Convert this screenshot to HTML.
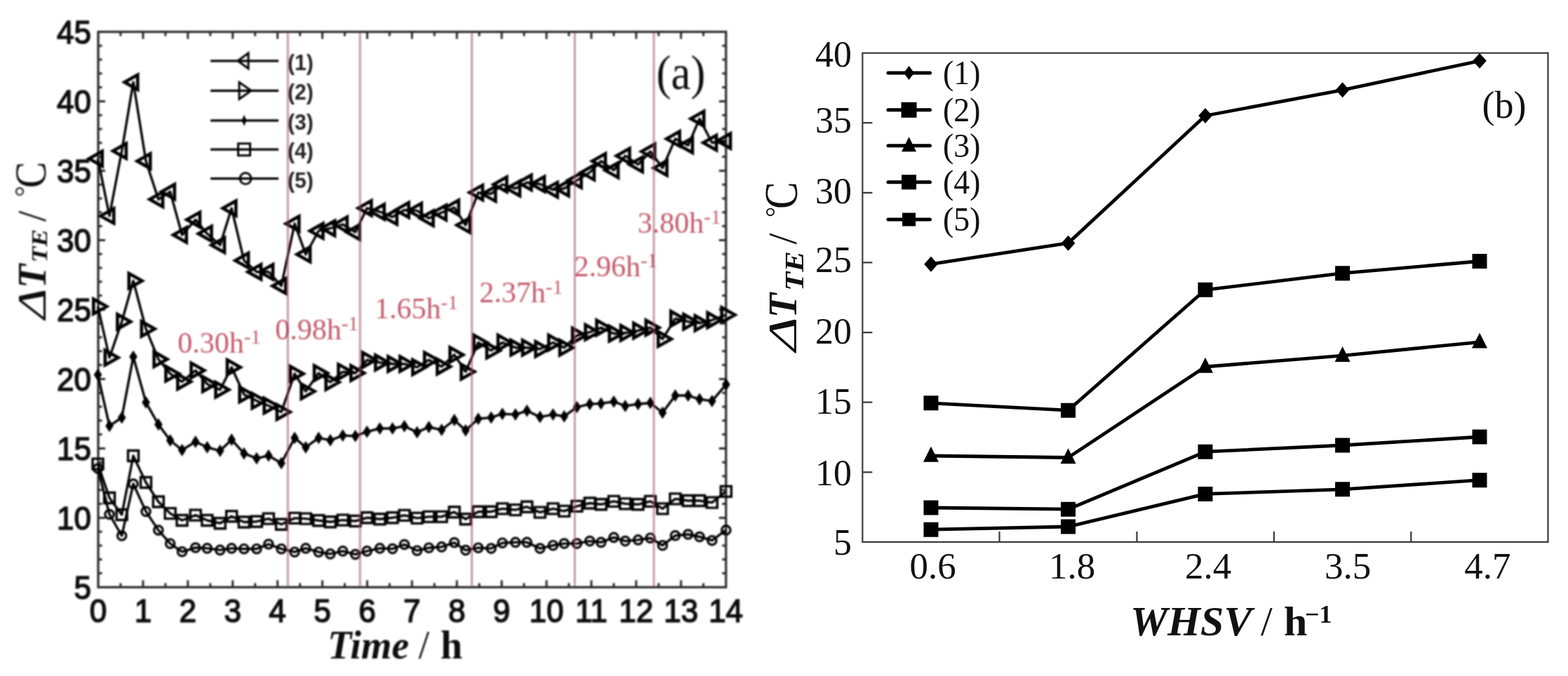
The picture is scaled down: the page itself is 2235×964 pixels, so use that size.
<!DOCTYPE html><html><head><meta charset="utf-8"><title>Chart</title><style>html,body{margin:0;padding:0;background:#fff;overflow:hidden;}svg{display:block;}</style></head><body>
<svg width="2235" height="964" viewBox="0 0 2235 964">
<rect width="2235" height="964" fill="#fff"/>
<defs><filter id="bl" filterUnits="userSpaceOnUse" x="0" y="0" width="1080" height="964"><feGaussianBlur stdDeviation="1"/></filter></defs>
<g filter="url(#bl)">
<rect x="140" y="45.4" width="894.8" height="792" fill="none" stroke="#2a2a2a" stroke-width="3.2"/>
<path d="M171.9 837.4v-6M171.9 45.4v6M203.9 837.4v-10M203.9 45.4v10M235.8 837.4v-6M235.8 45.4v6M267.8 837.4v-10M267.8 45.4v10M299.8 837.4v-6M299.8 45.4v6M331.7 837.4v-10M331.7 45.4v10M363.6 837.4v-6M363.6 45.4v6M395.6 837.4v-10M395.6 45.4v10M427.6 837.4v-6M427.6 45.4v6M459.5 837.4v-10M459.5 45.4v10M491.4 837.4v-6M491.4 45.4v6M523.4 837.4v-10M523.4 45.4v10M555.3 837.4v-6M555.3 45.4v6M587.3 837.4v-10M587.3 45.4v10M619.2 837.4v-6M619.2 45.4v6M651.2 837.4v-10M651.2 45.4v10M683.1 837.4v-6M683.1 45.4v6M715.1 837.4v-10M715.1 45.4v10M747 837.4v-6M747 45.4v6M779 837.4v-10M779 45.4v10M810.9 837.4v-6M810.9 45.4v6M842.9 837.4v-10M842.9 45.4v10M874.9 837.4v-6M874.9 45.4v6M906.8 837.4v-10M906.8 45.4v10M938.8 837.4v-6M938.8 45.4v6M970.7 837.4v-10M970.7 45.4v10M1002.6 837.4v-6M1002.6 45.4v6M140 817.6h5.5M1034.8 817.6h-5.5M140 797.8h5.5M1034.8 797.8h-5.5M140 778h5.5M1034.8 778h-5.5M140 758.2h5.5M1034.8 758.2h-5.5M140 738.4h10M1034.8 738.4h-10M140 718.6h5.5M1034.8 718.6h-5.5M140 698.8h5.5M1034.8 698.8h-5.5M140 679h5.5M1034.8 679h-5.5M140 659.2h5.5M1034.8 659.2h-5.5M140 639.4h10M1034.8 639.4h-10M140 619.6h5.5M1034.8 619.6h-5.5M140 599.8h5.5M1034.8 599.8h-5.5M140 580h5.5M1034.8 580h-5.5M140 560.2h5.5M1034.8 560.2h-5.5M140 540.4h10M1034.8 540.4h-10M140 520.6h5.5M1034.8 520.6h-5.5M140 500.8h5.5M1034.8 500.8h-5.5M140 481h5.5M1034.8 481h-5.5M140 461.2h5.5M1034.8 461.2h-5.5M140 441.4h10M1034.8 441.4h-10M140 421.6h5.5M1034.8 421.6h-5.5M140 401.8h5.5M1034.8 401.8h-5.5M140 382h5.5M1034.8 382h-5.5M140 362.2h5.5M1034.8 362.2h-5.5M140 342.4h10M1034.8 342.4h-10M140 322.6h5.5M1034.8 322.6h-5.5M140 302.8h5.5M1034.8 302.8h-5.5M140 283h5.5M1034.8 283h-5.5M140 263.2h5.5M1034.8 263.2h-5.5M140 243.4h10M1034.8 243.4h-10M140 223.6h5.5M1034.8 223.6h-5.5M140 203.8h5.5M1034.8 203.8h-5.5M140 184h5.5M1034.8 184h-5.5M140 164.2h5.5M1034.8 164.2h-5.5M140 144.4h10M1034.8 144.4h-10M140 124.6h5.5M1034.8 124.6h-5.5M140 104.8h5.5M1034.8 104.8h-5.5M140 85h5.5M1034.8 85h-5.5M140 65.2h5.5M1034.8 65.2h-5.5" stroke="#2a2a2a" stroke-width="3" fill="none"/>
<g font-family="'Liberation Sans', Arial, sans-serif" font-size="44" fill="#111" stroke="#111" stroke-width="1.5" text-anchor="end">
<text transform="translate(130 853.8) scale(1 1.07)">5</text>
<text transform="translate(130 754.8) scale(1 1.07)">10</text>
<text transform="translate(130 655.8) scale(1 1.07)">15</text>
<text transform="translate(130 556.8) scale(1 1.07)">20</text>
<text transform="translate(130 457.8) scale(1 1.07)">25</text>
<text transform="translate(130 358.8) scale(1 1.07)">30</text>
<text transform="translate(130 259.8) scale(1 1.07)">35</text>
<text transform="translate(130 160.8) scale(1 1.07)">40</text>
<text transform="translate(130 61.8) scale(1 1.07)">45</text>
</g>
<g font-family="'Liberation Sans', Arial, sans-serif" font-size="44" fill="#111" stroke="#111" stroke-width="1.5" text-anchor="middle">
<text transform="translate(140 886.5) scale(1 1.07)">0</text>
<text transform="translate(203.9 886.5) scale(1 1.07)">1</text>
<text transform="translate(267.8 886.5) scale(1 1.07)">2</text>
<text transform="translate(331.7 886.5) scale(1 1.07)">3</text>
<text transform="translate(395.6 886.5) scale(1 1.07)">4</text>
<text transform="translate(459.5 886.5) scale(1 1.07)">5</text>
<text transform="translate(523.4 886.5) scale(1 1.07)">6</text>
<text transform="translate(587.3 886.5) scale(1 1.07)">7</text>
<text transform="translate(651.2 886.5) scale(1 1.07)">8</text>
<text transform="translate(715.1 886.5) scale(1 1.07)">9</text>
<text transform="translate(779 886.5) scale(1 1.07)">10</text>
<text transform="translate(842.9 886.5) scale(1 1.07)">11</text>
<text transform="translate(906.8 886.5) scale(1 1.07)">12</text>
<text transform="translate(970.7 886.5) scale(1 1.07)">13</text>
<text transform="translate(1034.6 886.5) scale(1 1.07)">14</text>
</g>
<text x="467" y="939" font-family="'Liberation Serif', 'Times New Roman', serif" font-size="56" font-weight="bold" font-style="italic" fill="#111">Time</text>
<text x="596.5" y="939" font-family="'Liberation Serif', 'Times New Roman', serif" font-size="56" fill="#111">/</text>
<text x="628" y="939" font-family="'Liberation Serif', 'Times New Roman', serif" font-size="56" font-weight="bold" fill="#111">h</text>
<text transform="translate(65 455) rotate(-90) scale(1.33 1)" font-family="'Liberation Serif', 'Times New Roman', serif" font-size="56" fill="#111" font-style="italic">Δ</text>
<text transform="translate(65 411) rotate(-90) scale(1.0 1)" font-family="'Liberation Serif', 'Times New Roman', serif" font-size="56" fill="#111" font-weight="bold" font-style="italic">T</text>
<text transform="translate(66.5 374.5) rotate(-90) scale(1.17 1)" font-family="'Liberation Serif', 'Times New Roman', serif" font-size="32" fill="#111" font-weight="bold" font-style="italic">TE</text>
<text transform="translate(65 316) rotate(-90) scale(1.0 1)" font-family="'Liberation Serif', 'Times New Roman', serif" font-size="56" fill="#111" >/</text>
<text transform="translate(49 281) rotate(-90) scale(1.0 1)" font-family="'Liberation Serif', 'Times New Roman', serif" font-size="40" fill="#111" >°</text>
<text transform="translate(65 268) rotate(-90) scale(1.0 1.12)" font-family="'Liberation Serif', 'Times New Roman', serif" font-size="56" fill="#111" >C</text>
<text transform="translate(935.5 126.5) scale(1 1.1)" font-family="'Liberation Serif', 'Times New Roman', serif" font-size="63" fill="#111">(a)</text>
<g font-family="'Liberation Serif', 'Times New Roman', serif" font-size="42" fill="#c45a6a">
<text x="253.2" y="502.7">0.30h<tspan font-size="29" dy="-12.5">-1</tspan></text>
<text x="392.2" y="483.9">0.98h<tspan font-size="29" dy="-12.5">-1</tspan></text>
<text x="534.1" y="453.8">1.65h<tspan font-size="29" dy="-12.5">-1</tspan></text>
<text x="683.3" y="431.2">2.37h<tspan font-size="29" dy="-12.5">-1</tspan></text>
<text x="818.4" y="393.6">2.96h<tspan font-size="29" dy="-12.5">-1</tspan></text>
<text x="908.8" y="331.9">3.80h<tspan font-size="29" dy="-12.5">-1</tspan></text>
</g>
<polyline points="139.5,226.2 156,307.9 173.6,215.3 190,117.2 208,229.8 225.8,284.3 242.6,273.4 259.5,335 278.7,313.3 295.3,333.3 313.7,349.6 330.1,297 347.8,371.4 365.8,387.7 382.8,387.7 401,407.7 420,318.9 435.8,362.8 454.2,329.2 470.8,325.5 488.6,320 506.5,331 523.1,296.8 541.4,302 559.5,309.4 576.4,299.5 594.5,300.4 611.3,311.2 629.5,303.1 647.6,296 663.7,321 681.7,274.6 700.1,276.4 716.1,263 734.7,268.8 751.1,260.3 769.7,262.5 788.3,270.6 804.2,268.8 822.3,257.1 840.7,245.9 856.7,229.7 874.9,242.7 891.2,222.2 909.5,234.6 927,216 944.4,239.6 962.5,197.9 980.8,207.3 997.1,169.3 1014.9,203.5 1034.9,201" fill="none" stroke="#000" stroke-width="3.4" stroke-linejoin="round"/>
<polyline points="139.5,437 156,510 173.6,458.7 190,400.5 208,469 225.8,512.3 242.6,532.9 259.5,544.3 278.7,528.3 295.3,547.7 313.7,555.7 330.1,523.7 347.8,562.5 365.8,571.6 382.8,578.5 401,587.6 420,532.9 435.8,558.1 454.2,532 470.8,545 488.6,530.1 506.5,532 523.1,513.3 541.4,517 559.5,519 576.4,519 594.5,523.6 611.3,513.3 629.5,522.7 647.6,505.9 663.7,530.1 681.7,488.5 700.1,499.9 716.1,488.5 734.7,495.7 751.1,495.7 769.7,497.8 788.3,488.5 804.2,495.7 822.3,478.5 840.7,473.7 856.7,467.2 874.9,475.8 891.2,474.8 909.5,471.5 927,467.2 944.4,483.4 962.5,454.4 980.8,458.7 997.1,460.8 1014.9,456.5 1034.9,449" fill="none" stroke="#000" stroke-width="3.4" stroke-linejoin="round"/>
<polyline points="139.5,534.4 156,607.3 173.6,595.5 190,508.7 208,573.8 225.8,605.3 242.6,628 259.5,641.8 278.7,630 295.3,637.8 313.7,642.8 330.1,627 347.8,646.7 365.8,653.6 382.8,649.7 401,660.5 420,624.4 435.8,637.9 454.2,624.4 470.8,627.8 488.6,621.1 506.5,621.7 523.1,615.7 541.4,611 559.5,611 576.4,607.7 594.5,616.4 611.3,609 629.5,613 647.6,598.9 663.7,613.7 681.7,597.2 700.1,595.4 716.1,590.2 734.7,591.1 751.1,585.8 769.7,594.6 788.3,591.1 804.2,593.7 822.3,580.6 840.7,576.2 856.7,575.4 874.9,572.7 891.2,578.9 909.5,576.2 927,574.5 944.4,588.5 962.5,564 980.8,564 997.1,569.3 1014.9,571.9 1034.9,548.3" fill="none" stroke="#000" stroke-width="3.4" stroke-linejoin="round"/>
<polyline points="139.5,661.6 156,710 173.6,734 190,650 208,688 225.8,715.5 242.6,732.1 259.5,742 278.7,734.6 295.3,742 313.7,746.2 330.1,736.2 347.8,744.5 365.8,743.7 382.8,739.6 401,747.8 420,738.9 435.8,739.6 454.2,742.3 470.8,744.3 488.6,741.6 506.5,743 523.1,738.3 541.4,740.3 559.5,738.3 576.4,734.9 594.5,738.9 611.3,736.9 629.5,736.9 647.6,730.2 663.7,740.3 681.7,729.7 700.1,729.7 716.1,725.4 734.7,727.1 751.1,722.7 769.7,730.6 788.3,725.4 804.2,728.9 822.3,721.9 840.7,717.5 856.7,719.3 874.9,714.9 891.2,718.4 909.5,719.3 927,714.9 944.4,725.4 962.5,711.4 980.8,714 997.1,714 1014.9,716.6 1034.9,700.9" fill="none" stroke="#000" stroke-width="3.4" stroke-linejoin="round"/>
<polyline points="139.5,668 156,733.5 173.6,764 190,690 208,729.4 225.8,756.1 242.6,775.2 259.5,786.8 278.7,781 295.3,781.9 313.7,784.4 330.1,781.9 347.8,782.7 365.8,782.7 382.8,776 401,782.7 420,787.2 435.8,781.9 454.2,787.2 470.8,789.9 488.6,785.9 506.5,790.6 523.1,785.9 541.4,781.9 559.5,782.6 576.4,776.5 594.5,785.2 611.3,781.2 629.5,779.9 647.6,773.8 663.7,784.6 681.7,781.2 700.1,782.1 716.1,774.2 734.7,773.4 751.1,773.4 769.7,782.1 788.3,777.7 804.2,775.1 822.3,775.1 840.7,771.6 856.7,773.4 874.9,766.4 891.2,771.6 909.5,769.9 927,767.2 944.4,777.7 962.5,763.8 980.8,762 997.1,765.5 1014.9,770.7 1034.9,755.9" fill="none" stroke="#000" stroke-width="3.4" stroke-linejoin="round"/>
<path d="M127 226.2L145.7 215.7L145.7 236.7ZM143.5 307.9L162.2 297.4L162.2 318.4ZM161.1 215.3L179.8 204.8L179.8 225.8ZM177.5 117.2L196.2 106.7L196.2 127.7ZM195.5 229.8L214.2 219.3L214.2 240.3ZM213.3 284.3L232 273.8L232 294.8ZM230.1 273.4L248.8 262.9L248.8 283.9ZM247 335L265.7 324.5L265.7 345.5ZM266.2 313.3L284.9 302.8L284.9 323.8ZM282.8 333.3L301.5 322.8L301.5 343.8ZM301.2 349.6L319.9 339.1L319.9 360.1ZM317.6 297L336.3 286.5L336.3 307.5ZM335.3 371.4L354 360.9L354 381.9ZM353.3 387.7L372 377.2L372 398.2ZM370.3 387.7L389 377.2L389 398.2ZM388.5 407.7L407.2 397.2L407.2 418.2ZM407.5 318.9L426.2 308.4L426.2 329.4ZM423.3 362.8L442 352.3L442 373.3ZM441.7 329.2L460.4 318.7L460.4 339.7ZM458.3 325.5L477 315L477 336ZM476.1 320L494.8 309.5L494.8 330.5ZM494 331L512.7 320.5L512.7 341.5ZM510.6 296.8L529.3 286.3L529.3 307.3ZM528.9 302L547.6 291.5L547.6 312.5ZM547 309.4L565.7 298.9L565.7 319.9ZM563.9 299.5L582.6 289L582.6 310ZM582 300.4L600.7 289.9L600.7 310.9ZM598.8 311.2L617.5 300.7L617.5 321.7ZM617 303.1L635.7 292.6L635.7 313.6ZM635.1 296L653.8 285.5L653.8 306.5ZM651.2 321L669.9 310.5L669.9 331.5ZM669.2 274.6L687.9 264.1L687.9 285.1ZM687.6 276.4L706.3 265.9L706.3 286.9ZM703.6 263L722.3 252.5L722.3 273.5ZM722.2 268.8L740.9 258.3L740.9 279.3ZM738.6 260.3L757.3 249.8L757.3 270.8ZM757.2 262.5L775.9 252L775.9 273ZM775.8 270.6L794.5 260.1L794.5 281.1ZM791.7 268.8L810.4 258.3L810.4 279.3ZM809.8 257.1L828.5 246.6L828.5 267.6ZM828.2 245.9L846.9 235.4L846.9 256.4ZM844.2 229.7L862.9 219.2L862.9 240.2ZM862.4 242.7L881.1 232.2L881.1 253.2ZM878.7 222.2L897.4 211.7L897.4 232.7ZM897 234.6L915.7 224.1L915.7 245.1ZM914.5 216L933.2 205.5L933.2 226.5ZM931.9 239.6L950.6 229.1L950.6 250.1ZM950 197.9L968.7 187.4L968.7 208.4ZM968.3 207.3L987 196.8L987 217.8ZM984.6 169.3L1003.3 158.8L1003.3 179.8ZM1002.4 203.5L1021.1 193L1021.1 214ZM1022.4 201L1041.1 190.5L1041.1 211.5Z" fill="none" stroke="#000" stroke-width="4.6" stroke-linejoin="miter"/>
<path d="M152 437L133.3 426.5L133.3 447.5ZM168.5 510L149.8 499.5L149.8 520.5ZM186.1 458.7L167.4 448.2L167.4 469.2ZM202.5 400.5L183.8 390L183.8 411ZM220.5 469L201.8 458.5L201.8 479.5ZM238.3 512.3L219.6 501.8L219.6 522.8ZM255.1 532.9L236.4 522.4L236.4 543.4ZM272 544.3L253.3 533.8L253.3 554.8ZM291.2 528.3L272.5 517.8L272.5 538.8ZM307.8 547.7L289.1 537.2L289.1 558.2ZM326.2 555.7L307.5 545.2L307.5 566.2ZM342.6 523.7L323.9 513.2L323.9 534.2ZM360.3 562.5L341.6 552L341.6 573ZM378.3 571.6L359.6 561.1L359.6 582.1ZM395.3 578.5L376.6 568L376.6 589ZM413.5 587.6L394.8 577.1L394.8 598.1ZM432.5 532.9L413.8 522.4L413.8 543.4ZM448.3 558.1L429.6 547.6L429.6 568.6ZM466.7 532L448 521.5L448 542.5ZM483.3 545L464.6 534.5L464.6 555.5ZM501.1 530.1L482.4 519.6L482.4 540.6ZM519 532L500.3 521.5L500.3 542.5ZM535.6 513.3L516.9 502.8L516.9 523.8ZM553.9 517L535.2 506.5L535.2 527.5ZM572 519L553.3 508.5L553.3 529.5ZM588.9 519L570.2 508.5L570.2 529.5ZM607 523.6L588.3 513.1L588.3 534.1ZM623.8 513.3L605.1 502.8L605.1 523.8ZM642 522.7L623.3 512.2L623.3 533.2ZM660.1 505.9L641.4 495.4L641.4 516.4ZM676.2 530.1L657.5 519.6L657.5 540.6ZM694.2 488.5L675.5 478L675.5 499ZM712.6 499.9L693.9 489.4L693.9 510.4ZM728.6 488.5L709.9 478L709.9 499ZM747.2 495.7L728.5 485.2L728.5 506.2ZM763.6 495.7L744.9 485.2L744.9 506.2ZM782.2 497.8L763.5 487.3L763.5 508.3ZM800.8 488.5L782.1 478L782.1 499ZM816.7 495.7L798 485.2L798 506.2ZM834.8 478.5L816.1 468L816.1 489ZM853.2 473.7L834.5 463.2L834.5 484.2ZM869.2 467.2L850.5 456.7L850.5 477.7ZM887.4 475.8L868.7 465.3L868.7 486.3ZM903.7 474.8L885 464.3L885 485.3ZM922 471.5L903.3 461L903.3 482ZM939.5 467.2L920.8 456.7L920.8 477.7ZM956.9 483.4L938.2 472.9L938.2 493.9ZM975 454.4L956.3 443.9L956.3 464.9ZM993.3 458.7L974.6 448.2L974.6 469.2ZM1009.6 460.8L990.9 450.3L990.9 471.3ZM1027.4 456.5L1008.7 446L1008.7 467ZM1047.4 449L1028.7 438.5L1028.7 459.5Z" fill="none" stroke="#000" stroke-width="4.6" stroke-linejoin="miter"/>
<path d="M139.5 525.9L145 534.4L139.5 542.9L134 534.4ZM156 598.8L161.5 607.3L156 615.8L150.5 607.3ZM173.6 587L179.1 595.5L173.6 604L168.1 595.5ZM190 500.2L195.5 508.7L190 517.2L184.5 508.7ZM208 565.3L213.5 573.8L208 582.3L202.5 573.8ZM225.8 596.8L231.3 605.3L225.8 613.8L220.3 605.3ZM242.6 619.5L248.1 628L242.6 636.5L237.1 628ZM259.5 633.3L265 641.8L259.5 650.3L254 641.8ZM278.7 621.5L284.2 630L278.7 638.5L273.2 630ZM295.3 629.3L300.8 637.8L295.3 646.3L289.8 637.8ZM313.7 634.3L319.2 642.8L313.7 651.3L308.2 642.8ZM330.1 618.5L335.6 627L330.1 635.5L324.6 627ZM347.8 638.2L353.3 646.7L347.8 655.2L342.3 646.7ZM365.8 645.1L371.3 653.6L365.8 662.1L360.3 653.6ZM382.8 641.2L388.3 649.7L382.8 658.2L377.3 649.7ZM401 652L406.5 660.5L401 669L395.5 660.5ZM420 615.9L425.5 624.4L420 632.9L414.5 624.4ZM435.8 629.4L441.3 637.9L435.8 646.4L430.3 637.9ZM454.2 615.9L459.7 624.4L454.2 632.9L448.7 624.4ZM470.8 619.3L476.3 627.8L470.8 636.3L465.3 627.8ZM488.6 612.6L494.1 621.1L488.6 629.6L483.1 621.1ZM506.5 613.2L512 621.7L506.5 630.2L501 621.7ZM523.1 607.2L528.6 615.7L523.1 624.2L517.6 615.7ZM541.4 602.5L546.9 611L541.4 619.5L535.9 611ZM559.5 602.5L565 611L559.5 619.5L554 611ZM576.4 599.2L581.9 607.7L576.4 616.2L570.9 607.7ZM594.5 607.9L600 616.4L594.5 624.9L589 616.4ZM611.3 600.5L616.8 609L611.3 617.5L605.8 609ZM629.5 604.5L635 613L629.5 621.5L624 613ZM647.6 590.4L653.1 598.9L647.6 607.4L642.1 598.9ZM663.7 605.2L669.2 613.7L663.7 622.2L658.2 613.7ZM681.7 588.7L687.2 597.2L681.7 605.7L676.2 597.2ZM700.1 586.9L705.6 595.4L700.1 603.9L694.6 595.4ZM716.1 581.7L721.6 590.2L716.1 598.7L710.6 590.2ZM734.7 582.6L740.2 591.1L734.7 599.6L729.2 591.1ZM751.1 577.3L756.6 585.8L751.1 594.3L745.6 585.8ZM769.7 586.1L775.2 594.6L769.7 603.1L764.2 594.6ZM788.3 582.6L793.8 591.1L788.3 599.6L782.8 591.1ZM804.2 585.2L809.7 593.7L804.2 602.2L798.7 593.7ZM822.3 572.1L827.8 580.6L822.3 589.1L816.8 580.6ZM840.7 567.7L846.2 576.2L840.7 584.7L835.2 576.2ZM856.7 566.9L862.2 575.4L856.7 583.9L851.2 575.4ZM874.9 564.2L880.4 572.7L874.9 581.2L869.4 572.7ZM891.2 570.4L896.7 578.9L891.2 587.4L885.7 578.9ZM909.5 567.7L915 576.2L909.5 584.7L904 576.2ZM927 566L932.5 574.5L927 583L921.5 574.5ZM944.4 580L949.9 588.5L944.4 597L938.9 588.5ZM962.5 555.5L968 564L962.5 572.5L957 564ZM980.8 555.5L986.3 564L980.8 572.5L975.3 564ZM997.1 560.8L1002.6 569.3L997.1 577.8L991.6 569.3ZM1014.9 563.4L1020.4 571.9L1014.9 580.4L1009.4 571.9ZM1034.9 539.8L1040.4 548.3L1034.9 556.8L1029.4 548.3Z" fill="#000" stroke="#000" stroke-width="0.6"/>
<path d="M132 654.1h15v15h-15ZM148.5 702.5h15v15h-15ZM166.1 726.5h15v15h-15ZM182.5 642.5h15v15h-15ZM200.5 680.5h15v15h-15ZM218.3 708h15v15h-15ZM235.1 724.6h15v15h-15ZM252 734.5h15v15h-15ZM271.2 727.1h15v15h-15ZM287.8 734.5h15v15h-15ZM306.2 738.7h15v15h-15ZM322.6 728.7h15v15h-15ZM340.3 737h15v15h-15ZM358.3 736.2h15v15h-15ZM375.3 732.1h15v15h-15ZM393.5 740.3h15v15h-15ZM412.5 731.4h15v15h-15ZM428.3 732.1h15v15h-15ZM446.7 734.8h15v15h-15ZM463.3 736.8h15v15h-15ZM481.1 734.1h15v15h-15ZM499 735.5h15v15h-15ZM515.6 730.8h15v15h-15ZM533.9 732.8h15v15h-15ZM552 730.8h15v15h-15ZM568.9 727.4h15v15h-15ZM587 731.4h15v15h-15ZM603.8 729.4h15v15h-15ZM622 729.4h15v15h-15ZM640.1 722.7h15v15h-15ZM656.2 732.8h15v15h-15ZM674.2 722.2h15v15h-15ZM692.6 722.2h15v15h-15ZM708.6 717.9h15v15h-15ZM727.2 719.6h15v15h-15ZM743.6 715.2h15v15h-15ZM762.2 723.1h15v15h-15ZM780.8 717.9h15v15h-15ZM796.7 721.4h15v15h-15ZM814.8 714.4h15v15h-15ZM833.2 710h15v15h-15ZM849.2 711.8h15v15h-15ZM867.4 707.4h15v15h-15ZM883.7 710.9h15v15h-15ZM902 711.8h15v15h-15ZM919.5 707.4h15v15h-15ZM936.9 717.9h15v15h-15ZM955 703.9h15v15h-15ZM973.3 706.5h15v15h-15ZM989.6 706.5h15v15h-15ZM1007.4 709.1h15v15h-15ZM1027.4 693.4h15v15h-15Z" fill="none" stroke="#000" stroke-width="3.4"/>
<path d="M133.3 668a6.2 6.2 0 1 0 12.4 0a6.2 6.2 0 1 0 -12.4 0ZM149.8 733.5a6.2 6.2 0 1 0 12.4 0a6.2 6.2 0 1 0 -12.4 0ZM167.4 764a6.2 6.2 0 1 0 12.4 0a6.2 6.2 0 1 0 -12.4 0ZM183.8 690a6.2 6.2 0 1 0 12.4 0a6.2 6.2 0 1 0 -12.4 0ZM201.8 729.4a6.2 6.2 0 1 0 12.4 0a6.2 6.2 0 1 0 -12.4 0ZM219.6 756.1a6.2 6.2 0 1 0 12.4 0a6.2 6.2 0 1 0 -12.4 0ZM236.4 775.2a6.2 6.2 0 1 0 12.4 0a6.2 6.2 0 1 0 -12.4 0ZM253.3 786.8a6.2 6.2 0 1 0 12.4 0a6.2 6.2 0 1 0 -12.4 0ZM272.5 781a6.2 6.2 0 1 0 12.4 0a6.2 6.2 0 1 0 -12.4 0ZM289.1 781.9a6.2 6.2 0 1 0 12.4 0a6.2 6.2 0 1 0 -12.4 0ZM307.5 784.4a6.2 6.2 0 1 0 12.4 0a6.2 6.2 0 1 0 -12.4 0ZM323.9 781.9a6.2 6.2 0 1 0 12.4 0a6.2 6.2 0 1 0 -12.4 0ZM341.6 782.7a6.2 6.2 0 1 0 12.4 0a6.2 6.2 0 1 0 -12.4 0ZM359.6 782.7a6.2 6.2 0 1 0 12.4 0a6.2 6.2 0 1 0 -12.4 0ZM376.6 776a6.2 6.2 0 1 0 12.4 0a6.2 6.2 0 1 0 -12.4 0ZM394.8 782.7a6.2 6.2 0 1 0 12.4 0a6.2 6.2 0 1 0 -12.4 0ZM413.8 787.2a6.2 6.2 0 1 0 12.4 0a6.2 6.2 0 1 0 -12.4 0ZM429.6 781.9a6.2 6.2 0 1 0 12.4 0a6.2 6.2 0 1 0 -12.4 0ZM448 787.2a6.2 6.2 0 1 0 12.4 0a6.2 6.2 0 1 0 -12.4 0ZM464.6 789.9a6.2 6.2 0 1 0 12.4 0a6.2 6.2 0 1 0 -12.4 0ZM482.4 785.9a6.2 6.2 0 1 0 12.4 0a6.2 6.2 0 1 0 -12.4 0ZM500.3 790.6a6.2 6.2 0 1 0 12.4 0a6.2 6.2 0 1 0 -12.4 0ZM516.9 785.9a6.2 6.2 0 1 0 12.4 0a6.2 6.2 0 1 0 -12.4 0ZM535.2 781.9a6.2 6.2 0 1 0 12.4 0a6.2 6.2 0 1 0 -12.4 0ZM553.3 782.6a6.2 6.2 0 1 0 12.4 0a6.2 6.2 0 1 0 -12.4 0ZM570.2 776.5a6.2 6.2 0 1 0 12.4 0a6.2 6.2 0 1 0 -12.4 0ZM588.3 785.2a6.2 6.2 0 1 0 12.4 0a6.2 6.2 0 1 0 -12.4 0ZM605.1 781.2a6.2 6.2 0 1 0 12.4 0a6.2 6.2 0 1 0 -12.4 0ZM623.3 779.9a6.2 6.2 0 1 0 12.4 0a6.2 6.2 0 1 0 -12.4 0ZM641.4 773.8a6.2 6.2 0 1 0 12.4 0a6.2 6.2 0 1 0 -12.4 0ZM657.5 784.6a6.2 6.2 0 1 0 12.4 0a6.2 6.2 0 1 0 -12.4 0ZM675.5 781.2a6.2 6.2 0 1 0 12.4 0a6.2 6.2 0 1 0 -12.4 0ZM693.9 782.1a6.2 6.2 0 1 0 12.4 0a6.2 6.2 0 1 0 -12.4 0ZM709.9 774.2a6.2 6.2 0 1 0 12.4 0a6.2 6.2 0 1 0 -12.4 0ZM728.5 773.4a6.2 6.2 0 1 0 12.4 0a6.2 6.2 0 1 0 -12.4 0ZM744.9 773.4a6.2 6.2 0 1 0 12.4 0a6.2 6.2 0 1 0 -12.4 0ZM763.5 782.1a6.2 6.2 0 1 0 12.4 0a6.2 6.2 0 1 0 -12.4 0ZM782.1 777.7a6.2 6.2 0 1 0 12.4 0a6.2 6.2 0 1 0 -12.4 0ZM798 775.1a6.2 6.2 0 1 0 12.4 0a6.2 6.2 0 1 0 -12.4 0ZM816.1 775.1a6.2 6.2 0 1 0 12.4 0a6.2 6.2 0 1 0 -12.4 0ZM834.5 771.6a6.2 6.2 0 1 0 12.4 0a6.2 6.2 0 1 0 -12.4 0ZM850.5 773.4a6.2 6.2 0 1 0 12.4 0a6.2 6.2 0 1 0 -12.4 0ZM868.7 766.4a6.2 6.2 0 1 0 12.4 0a6.2 6.2 0 1 0 -12.4 0ZM885 771.6a6.2 6.2 0 1 0 12.4 0a6.2 6.2 0 1 0 -12.4 0ZM903.3 769.9a6.2 6.2 0 1 0 12.4 0a6.2 6.2 0 1 0 -12.4 0ZM920.8 767.2a6.2 6.2 0 1 0 12.4 0a6.2 6.2 0 1 0 -12.4 0ZM938.2 777.7a6.2 6.2 0 1 0 12.4 0a6.2 6.2 0 1 0 -12.4 0ZM956.3 763.8a6.2 6.2 0 1 0 12.4 0a6.2 6.2 0 1 0 -12.4 0ZM974.6 762a6.2 6.2 0 1 0 12.4 0a6.2 6.2 0 1 0 -12.4 0ZM990.9 765.5a6.2 6.2 0 1 0 12.4 0a6.2 6.2 0 1 0 -12.4 0ZM1008.7 770.7a6.2 6.2 0 1 0 12.4 0a6.2 6.2 0 1 0 -12.4 0ZM1028.7 755.9a6.2 6.2 0 1 0 12.4 0a6.2 6.2 0 1 0 -12.4 0Z" fill="none" stroke="#000" stroke-width="3.2"/>
<line x1="300" y1="86.8" x2="397" y2="86.8" stroke="#000" stroke-width="3.2"/>
<line x1="300" y1="129.3" x2="397" y2="129.3" stroke="#000" stroke-width="3.2"/>
<line x1="300" y1="171.8" x2="397" y2="171.8" stroke="#000" stroke-width="3.2"/>
<line x1="300" y1="213.2" x2="397" y2="213.2" stroke="#000" stroke-width="3.2"/>
<line x1="300" y1="254.6" x2="397" y2="254.6" stroke="#000" stroke-width="3.2"/>
<path d="M339 86.8L354 75.8L354 97.8Z" fill="none" stroke="#000" stroke-width="3"/>
<path d="M358 129.3L341 117.3L341 141.3Z" fill="none" stroke="#000" stroke-width="3"/>
<path d="M348 163.8L351.5 171.8L348 179.8L344.5 171.8Z" fill="#000"/>
<rect x="339.5" y="204.7" width="17" height="17" fill="none" stroke="#000" stroke-width="3"/>
<circle cx="350" cy="254.6" r="8" fill="none" stroke="#000" stroke-width="3"/>
<g font-family="'Liberation Sans', Arial, sans-serif" font-weight="bold" font-size="30" fill="#222">
<text transform="translate(410 99.8) scale(1 1.07)">(1)</text>
<text transform="translate(410 142.3) scale(1 1.07)">(2)</text>
<text transform="translate(410 184.8) scale(1 1.07)">(3)</text>
<text transform="translate(410 226.2) scale(1 1.07)">(4)</text>
<text transform="translate(410 267.6) scale(1 1.07)">(5)</text>
</g>
<line x1="410.3" y1="46.9" x2="410.3" y2="835.9" stroke="#96465a" stroke-opacity="0.55" stroke-width="3"/>
<line x1="513.2" y1="46.9" x2="513.2" y2="835.9" stroke="#96465a" stroke-opacity="0.55" stroke-width="3"/>
<line x1="672.6" y1="46.9" x2="672.6" y2="835.9" stroke="#96465a" stroke-opacity="0.55" stroke-width="3"/>
<line x1="819.3" y1="46.9" x2="819.3" y2="835.9" stroke="#96465a" stroke-opacity="0.55" stroke-width="3"/>
<line x1="932" y1="46.9" x2="932" y2="835.9" stroke="#96465a" stroke-opacity="0.55" stroke-width="3"/>
</g>
<rect x="1229.4" y="75.6" width="977.1" height="697.3" fill="none" stroke="#3a3a3a" stroke-width="2.2"/>
<path d="M1229.4 673.3h14M1229.4 573.7h14M1229.4 474.1h14M1229.4 374.4h14M1229.4 274.8h14M1229.4 175.2h14M1424.6 772.9v-15M1620.5 772.9v-15M1815.9 772.9v-15M2011.3 772.9v-15" stroke="#3a3a3a" stroke-width="2.2" fill="none"/>
<g font-family="'Liberation Serif', 'Times New Roman', serif" font-size="52" fill="#111" text-anchor="end">
<text x="1214" y="791.2">5</text>
<text x="1214" y="692.4">10</text>
<text x="1214" y="589.8">15</text>
<text x="1214" y="489.8">20</text>
<text x="1214" y="387.9">25</text>
<text x="1214" y="290.4">30</text>
<text x="1214" y="189.2">35</text>
<text x="1214" y="94.6">40</text>
</g>
<g font-family="'Liberation Serif', 'Times New Roman', serif" font-size="53" fill="#111" text-anchor="middle">
<text x="1329.5" y="825">0.6</text>
<text x="1528" y="825">1.8</text>
<text x="1722" y="825">2.4</text>
<text x="1921" y="825">3.5</text>
<text x="2120.4" y="825">4.7</text>
</g>
<text x="1611" y="906" font-family="'Liberation Serif', 'Times New Roman', serif" font-size="60" font-weight="bold" font-style="italic" fill="#111">WHSV</text>
<text x="1797" y="906" font-family="'Liberation Serif', 'Times New Roman', serif" font-size="60" fill="#111">/</text>
<text x="1830" y="906" font-family="'Liberation Serif', 'Times New Roman', serif" font-size="60" font-weight="bold" fill="#111">h</text>
<text x="1860" y="888" font-family="'Liberation Serif', 'Times New Roman', serif" font-size="36" font-weight="bold" fill="#111">−1</text>
<text transform="translate(1134.5 501) rotate(-90) scale(1.44 1)" font-family="'Liberation Serif', 'Times New Roman', serif" font-size="58" fill="#111" font-style="italic">Δ</text>
<text transform="translate(1134.5 453.5) rotate(-90) scale(1.0 1)" font-family="'Liberation Serif', 'Times New Roman', serif" font-size="58" fill="#111" font-weight="bold" font-style="italic">T</text>
<text transform="translate(1145 415) rotate(-90) scale(1.17 1)" font-family="'Liberation Serif', 'Times New Roman', serif" font-size="38" fill="#111" font-weight="bold" font-style="italic">TE</text>
<text transform="translate(1134.5 348.5) rotate(-90) scale(1.0 1)" font-family="'Liberation Serif', 'Times New Roman', serif" font-size="58" fill="#111" >/</text>
<text transform="translate(1117.5 310) rotate(-90) scale(1.0 1)" font-family="'Liberation Serif', 'Times New Roman', serif" font-size="38" fill="#111" >°</text>
<text transform="translate(1136 298) rotate(-90) scale(1.0 1.15)" font-family="'Liberation Serif', 'Times New Roman', serif" font-size="58" fill="#111" >C</text>
<text x="2112.5" y="168" font-family="'Liberation Serif', 'Times New Roman', serif" font-size="54" fill="#111">(b)</text>
<polyline points="1327,376.7 1522.6,346.7 1718,165 1913.6,128.3 2109,86.8" fill="none" stroke="#000" stroke-width="4.8" stroke-linejoin="round"/>
<polyline points="1327,574.8 1522.6,585.2 1718,413.3 1913.6,389.7 2109,372.5" fill="none" stroke="#000" stroke-width="4.8" stroke-linejoin="round"/>
<polyline points="1327,650 1522.6,652.5 1718,523 1913.6,507.2 2109,487.8" fill="none" stroke="#000" stroke-width="4.8" stroke-linejoin="round"/>
<polyline points="1327,724 1522.6,726.2 1718,644.2 1913.6,635 2109,623" fill="none" stroke="#000" stroke-width="4.8" stroke-linejoin="round"/>
<polyline points="1327,755.2 1522.6,751 1718,704.4 1913.6,697.8 2109,684.7" fill="none" stroke="#000" stroke-width="4.8" stroke-linejoin="round"/>
<path d="M1327 365.7L1336.8 376.7L1327 387.7L1317.2 376.7ZM1522.6 335.7L1532.4 346.7L1522.6 357.7L1512.8 346.7ZM1718 154L1727.8 165L1718 176L1708.2 165ZM1913.6 117.3L1923.4 128.3L1913.6 139.3L1903.8 128.3ZM2109 75.8L2118.8 86.8L2109 97.8L2099.2 86.8ZM1316.5 564.3h21v21h-21ZM1512.1 574.7h21v21h-21ZM1707.5 402.8h21v21h-21ZM1903.1 379.2h21v21h-21ZM2098.5 362h21v21h-21ZM1327 636.8L1338 658.8L1316 658.8ZM1522.6 639.3L1533.6 661.3L1511.6 661.3ZM1718 509.8L1729 531.8L1707 531.8ZM1913.6 494L1924.6 516L1902.6 516ZM2109 474.6L2120 496.6L2098 496.6ZM1316.5 713.5h21v21h-21ZM1512.1 715.7h21v21h-21ZM1707.5 633.7h21v21h-21ZM1903.1 624.5h21v21h-21ZM2098.5 612.5h21v21h-21ZM1316.5 744.7h21v21h-21ZM1512.1 740.5h21v21h-21ZM1707.5 693.9h21v21h-21ZM1903.1 687.3h21v21h-21ZM2098.5 674.2h21v21h-21Z" fill="#000"/>
<line x1="1266" y1="103.9" x2="1325.5" y2="103.9" stroke="#000" stroke-width="5" stroke-linecap="round"/>
<line x1="1266" y1="156.8" x2="1325.5" y2="156.8" stroke="#000" stroke-width="5" stroke-linecap="round"/>
<line x1="1266" y1="207.8" x2="1325.5" y2="207.8" stroke="#000" stroke-width="5" stroke-linecap="round"/>
<line x1="1266" y1="259.8" x2="1325.5" y2="259.8" stroke="#000" stroke-width="5" stroke-linecap="round"/>
<line x1="1266" y1="313" x2="1325.5" y2="313" stroke="#000" stroke-width="5" stroke-linecap="round"/>
<path d="M1295.6 93.9L1303.1 103.9L1295.6 113.9L1288.1 103.9ZM1284.6 145.8h22v22h-22ZM1295.6 195.2L1306.1 216.2L1285.1 216.2ZM1285.1 249.3h21v21h-21ZM1286.1 303.5h19v19h-19Z" fill="#000"/>
<g font-family="'Liberation Serif', 'Times New Roman', serif" font-size="46" fill="#111">
<text transform="translate(1344 119.9) scale(1 1.05)">(1)</text>
<text transform="translate(1344 172.8) scale(1 1.05)">(2)</text>
<text transform="translate(1344 223.8) scale(1 1.05)">(3)</text>
<text transform="translate(1344 275.8) scale(1 1.05)">(4)</text>
<text transform="translate(1344 329) scale(1 1.05)">(5)</text>
</g>
</svg></body></html>
